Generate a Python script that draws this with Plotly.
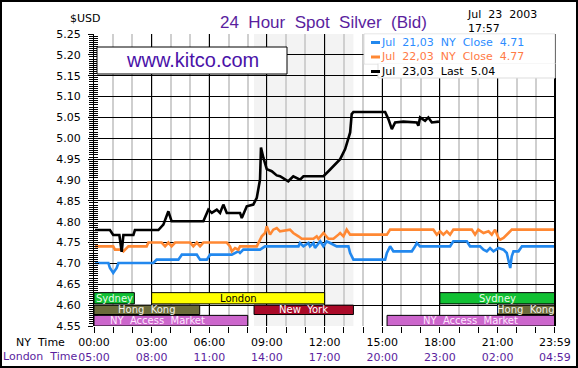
import plotly.graph_objects as go

# ---------------- data ----------------
# hours after 00:00 NY time, spot silver bid in USD
hours_jul21 = [0.05, 0.75, 0.83, 1.0, 1.18, 1.27, 3.09, 3.26, 4.39, 4.57, 5.35, 5.52, 5.87, 6.04, 7.17, 7.34,
               7.51, 7.60, 7.77, 8.64, 8.90, 10.64, 10.72, 10.90, 11.16, 11.24, 11.42, 11.50, 11.77, 11.94,
               12.11, 12.29, 12.63, 13.24, 13.33, 13.50, 15.15, 15.24, 15.41, 15.58, 16.54, 16.71, 16.80,
               16.97, 18.53, 18.70, 19.40, 19.57, 20.09, 20.27, 20.44, 20.61, 20.79, 21.05, 21.31, 21.48,
               21.57, 21.66, 21.74, 21.83, 22.09, 22.27, 23.95]
silver_jul21 = [4.701, 4.701, 4.689, 4.677, 4.689, 4.701, 4.701, 4.709, 4.709, 4.721, 4.721, 4.709, 4.709, 4.721,
                4.721, 4.725, 4.729, 4.725, 4.733, 4.733, 4.741, 4.741, 4.749, 4.741, 4.749, 4.741, 4.749,
                4.737, 4.753, 4.741, 4.753, 4.749, 4.741, 4.741, 4.725, 4.709, 4.709, 4.725, 4.741, 4.729,
                4.729, 4.741, 4.749, 4.741, 4.741, 4.753, 4.753, 4.741, 4.741, 4.733, 4.729, 4.737, 4.729,
                4.737, 4.733, 4.725, 4.709, 4.689, 4.717, 4.729, 4.729, 4.741, 4.741]

hours_jul22 = [0.05, 1.0, 1.09, 1.44, 1.53, 1.61, 1.79, 2.74, 2.83, 3.52, 3.70, 3.87, 4.04, 4.22, 5.0, 5.17,
               5.35, 5.52, 5.69, 6.91, 7.08, 7.17, 7.34, 7.51, 7.60, 8.47, 8.73, 8.90, 8.99, 9.16, 9.33,
               9.51, 9.68, 10.2, 10.37, 10.64, 10.81, 11.42, 11.59, 11.68, 11.85, 11.94, 12.20, 12.46,
               12.72, 12.81, 12.98, 13.15, 13.33, 15.24, 15.41, 17.66, 17.84, 18.01, 18.18, 18.36, 18.53,
               18.70, 19.66, 19.83, 20.0, 20.27, 20.53, 20.70, 20.87, 21.05, 21.14, 21.31, 21.57, 21.74,
               23.95]
silver_jul22 = [4.741, 4.741, 4.733, 4.733, 4.729, 4.733, 4.741, 4.741, 4.750, 4.750, 4.741, 4.750, 4.741,
                4.750, 4.750, 4.741, 4.750, 4.741, 4.750, 4.750, 4.741, 4.729, 4.737, 4.733, 4.741, 4.741,
                4.765, 4.773, 4.789, 4.769, 4.781, 4.785, 4.777, 4.781, 4.773, 4.765, 4.759, 4.759, 4.765,
                4.759, 4.769, 4.773, 4.759, 4.759, 4.769, 4.773, 4.765, 4.781, 4.769, 4.769, 4.781, 4.781,
                4.769, 4.777, 4.769, 4.777, 4.769, 4.781, 4.781, 4.769, 4.781, 4.773, 4.777, 4.769, 4.781,
                4.761, 4.757, 4.761, 4.773, 4.781, 4.781]

hours_jul23 = [0.05, 0.83, 1.0, 1.32, 1.44, 1.53, 2.05, 2.13, 3.35, 3.61, 3.87, 4.04, 5.69, 5.95, 6.13, 6.39,
               6.56, 6.73, 6.91, 7.60, 7.69, 7.95, 8.29, 8.47, 8.64, 8.69, 8.81, 8.99, 9.25, 9.51, 9.68,
               10.11, 10.37, 10.72, 10.90, 11.94, 12.20, 12.46, 12.81, 13.07, 13.24, 13.33, 13.41, 13.50,
               15.15, 15.32, 15.50, 15.67, 16.10, 16.80, 16.88, 16.97, 17.23, 17.40, 17.58, 17.95]
silver_jul23 = [4.780, 4.780, 4.768, 4.768, 4.728, 4.768, 4.768, 4.780, 4.780, 4.793, 4.825, 4.801, 4.801,
                4.829, 4.821, 4.829, 4.821, 4.841, 4.821, 4.821, 4.809, 4.837, 4.841, 4.857, 4.901, 4.978,
                4.954, 4.926, 4.921, 4.911, 4.909, 4.897, 4.909, 4.901, 4.909, 4.909, 4.921, 4.934, 4.950,
                4.974, 4.998, 5.014, 5.058, 5.063, 5.063, 5.046, 5.022, 5.038, 5.040, 5.038, 5.030, 5.050,
                5.042, 5.050, 5.038, 5.040]

series_dates = ["Jul 21,03", "Jul 22,03", "Jul 23,03"]
series_kinds = ["NY Close", "NY Close", "Last"]
series_quotes = [4.71, 4.77, 5.04]

tick_hours = [0, 3, 6, 9, 12, 15, 18, 21, 23.983]
ny_time_labels = ["00:00", "03:00", "06:00", "09:00", "12:00", "15:00", "18:00", "21:00", "23:59"]
london_time_labels = ["05:00", "08:00", "11:00", "14:00", "17:00", "20:00", "23:00", "02:00", "04:59"]

# trading sessions (hours, NY time)
session_names = ["Sydney", "Sydney", "London", "Hong Kong", "Hong Kong", "New York",
                 "NY Access Market", "NY Access Market"]
session_start = [0, 18, 3, 0, 21, 8.33, 0, 15.25]
session_end = [2.1, 23.983, 12, 5.5, 23.983, 13.5, 8.0, 23.983]
session_row = [0, 0, 0, 1, 1, 1, 2, 2]
session_label_hour = [1.05, 20.99, 7.5, 2.75, 22.49, 10.9, 3.3, 19.6]

# ---------------- styling ----------------
W, H = 578, 368
ML, MR, MT, MB = 94, 23, 34, 42
PW, PH = W - ML - MR, H - MT - MB


def px(X):
    return (X - ML) / PW


def py(Y):
    return (H - MB - Y) / PH


FONT = "DejaVu Sans"
PURPLE = "#5a1e9e"
line_colors = ["#2288ee", "#ff8833", "#000000"]
text_colors = ["#2b8cff", "#ff7a45", "#000000"]
row_bands = [(4.603, 4.630), (4.5775, 4.600), (4.55, 4.5755)]
session_fill = {"Sydney": "#11c033", "London": "#ffff00", "Hong Kong": "#6b6b3b",
                "New York": "#aa0a28", "NY Access Market": "#cc66cc"}
session_text = {"Sydney": "#eaffea", "London": "#000000", "Hong Kong": "#f2f2e8",
                "New York": "#ffffff", "NY Access Market": "#ffe6ff"}


def label(X, Y, text, size=11, color="black", family=FONT, xanchor="center"):
    return dict(x=px(X), y=py(Y), xref="paper", yref="paper", showarrow=False, text=text,
                xanchor=xanchor, yanchor="middle", font=dict(family=family, size=size, color=color))


fig = go.Figure()
all_h = [hours_jul21, hours_jul22, hours_jul23]
all_v = [silver_jul21, silver_jul22, silver_jul23]
for i in range(3):
    fig.add_trace(go.Scatter(x=all_h[i], y=all_v[i], mode="lines",
                             line=dict(color=line_colors[i], width=2.6),
                             showlegend=False, hoverinfo="skip"))
# invisible trace to activate the inner tick axis
fig.add_trace(go.Scatter(x=[0], y=[4.55], mode="markers", marker=dict(opacity=0),
                         yaxis="y2", showlegend=False, hoverinfo="skip"))

shapes = []
# NY session shading
ny_idx = session_names.index("New York")
shapes.append(dict(type="rect", xref="x", yref="paper", x0=session_start[ny_idx], x1=session_end[ny_idx],
                   y0=0, y1=1, fillcolor="#f3f3f3", line=dict(width=0), layer="below"))
annotations = []
for n, s, e, r, lh in zip(session_names, session_start, session_end, session_row, session_label_hour):
    lo, hi = row_bands[r]
    shapes.append(dict(type="rect", xref="x", yref="y", x0=s, x1=e, y0=lo, y1=hi,
                       fillcolor=session_fill[n], line=dict(color="black", width=1), layer="above"))
    annotations.append(dict(x=lh, y=(lo + hi) / 2, xref="x", yref="y", showarrow=False,
                            xanchor="center", yanchor="middle", borderpad=0,
                            text=n.replace(" ", "\u00a0\u00a0"),
                            font=dict(family=FONT, size=10, color=session_text[n])))

# right frame
shapes.append(dict(type="line", xref="paper", yref="paper", x0=1, x1=1, y0=0, y1=1,
                   line=dict(color="black", width=2), layer="above"))
# image border
shapes.append(dict(type="rect", xref="paper", yref="paper", x0=px(1), x1=px(577), y0=py(367), y1=py(1),
                   line=dict(color="black", width=2)))
# kitco box
shapes.append(dict(type="rect", xref="paper", yref="paper", x0=px(97), x1=px(287), y0=py(74), y1=py(47),
                   fillcolor="white", line=dict(color="black", width=1), layer="above"))
annotations.append(label(192, 60.5, "www.kitco.com", size=20, color="#4a12a8", family="Liberation Sans"))
# legend box
shapes.append(dict(type="rect", xref="paper", yref="paper", x0=px(364), x1=px(555), y0=py(64), y1=py(34),
                   fillcolor="white", line=dict(color="#dddddd", width=1), layer="above"))
shapes.append(dict(type="rect", xref="paper", yref="paper", x0=px(378), x1=px(555), y0=py(78), y1=py(63),
                   fillcolor="white", line=dict(color="#dddddd", width=1), layer="above"))
shapes.append(dict(type="rect", xref="paper", yref="paper", x0=px(365), x1=px(554), y0=py(63.5), y1=py(34.5),
                   fillcolor="white", line=dict(width=0), layer="above"))
row_y = [42.5, 57, 71.5]
for i in range(3):
    shapes.append(dict(type="rect", xref="paper", yref="paper", x0=px(371), x1=px(380),
                       y0=py(row_y[i] + 1.5), y1=py(row_y[i] - 1.5),
                       fillcolor=line_colors[i], line=dict(width=0), layer="above"))
    txt = "\u00a0\u00a0".join([series_dates[i].split(" ")[0], series_dates[i].split(" ")[1]] +
                             series_kinds[i].split(" ") + [f"{series_quotes[i]:.2f}"])
    annotations.append(label(379, row_y[i], txt, color=text_colors[i], xanchor="left"))

# titles and labels
annotations += [
    label(323, 22, "24\u00a0\u00a0Hour\u00a0\u00a0Spot\u00a0\u00a0Silver\u00a0\u00a0(Bid)",
          size=17, color=PURPLE, family="Liberation Sans"),
    label(85, 18, "$USD"),
    dict(x=px(466), y=py(7), xref="paper", yref="paper", showarrow=False, xanchor="left", yanchor="top",
         borderpad=0, align="left", text="Jul\u00a0\u00a023\u00a0\u00a02003<br>17:57",
         font=dict(family=FONT, size=11, color="black")),
    label(40, 343, "NY\u00a0\u00a0Time"),
    label(40, 356, "London\u00a0\u00a0Time", color=PURPLE),
]

ticktext = [f"{a}<br><span style='color:{PURPLE}'>{b}</span>" for a, b in zip(ny_time_labels, london_time_labels)]

fig.update_layout(
    width=W, height=H, margin=dict(l=ML, r=MR, t=MT, b=MB, autoexpand=False),
    paper_bgcolor="white", plot_bgcolor="white",
    shapes=shapes, annotations=annotations, showlegend=False,
    xaxis=dict(range=[0, 23.99], tickmode="array", tickvals=tick_hours, ticktext=ticktext,
               automargin=False,
               showgrid=True, gridcolor="black", gridwidth=1, zeroline=False, showline=False,
               ticks="outside", ticklen=6, tickcolor="black",
               tickfont=dict(family=FONT, size=11, color="black"),
               minor=dict(tickmode="linear", tick0=0, dtick=1, showgrid=True, gridcolor="#cfcfcf",
                          gridwidth=2, ticks="outside", ticklen=6, tickcolor="black")),
    yaxis=dict(range=[4.55, 5.25], tick0=4.55, dtick=0.05, tickformat=".2f", automargin=False,
               showgrid=True, gridcolor="black", gridwidth=1, zeroline=False,
               showline=True, linecolor="black", linewidth=1,
               ticks="outside", ticklen=5, tickcolor="black", ticklabelstandoff=5,
               tickfont=dict(family=FONT, size=11, color="black"),
               minor=dict(tick0=4.55, dtick=0.005, ticks="outside", ticklen=4, tickcolor="black",
                          showgrid=False)),
    yaxis2=dict(range=[4.55, 5.25], overlaying="y", side="left", tick0=4.55, dtick=0.05, automargin=False,
                showgrid=False, zeroline=False, showline=False, showticklabels=False,
                ticks="inside", ticklen=5, tickcolor="black",
                minor=dict(tick0=4.55, dtick=0.005, ticks="inside", ticklen=4, tickcolor="black",
                           showgrid=False)),
)

fig.write_html("out.html", config={"displayModeBar": False},
               post_script="document.body.style.margin='0';document.body.style.overflow='hidden';")
